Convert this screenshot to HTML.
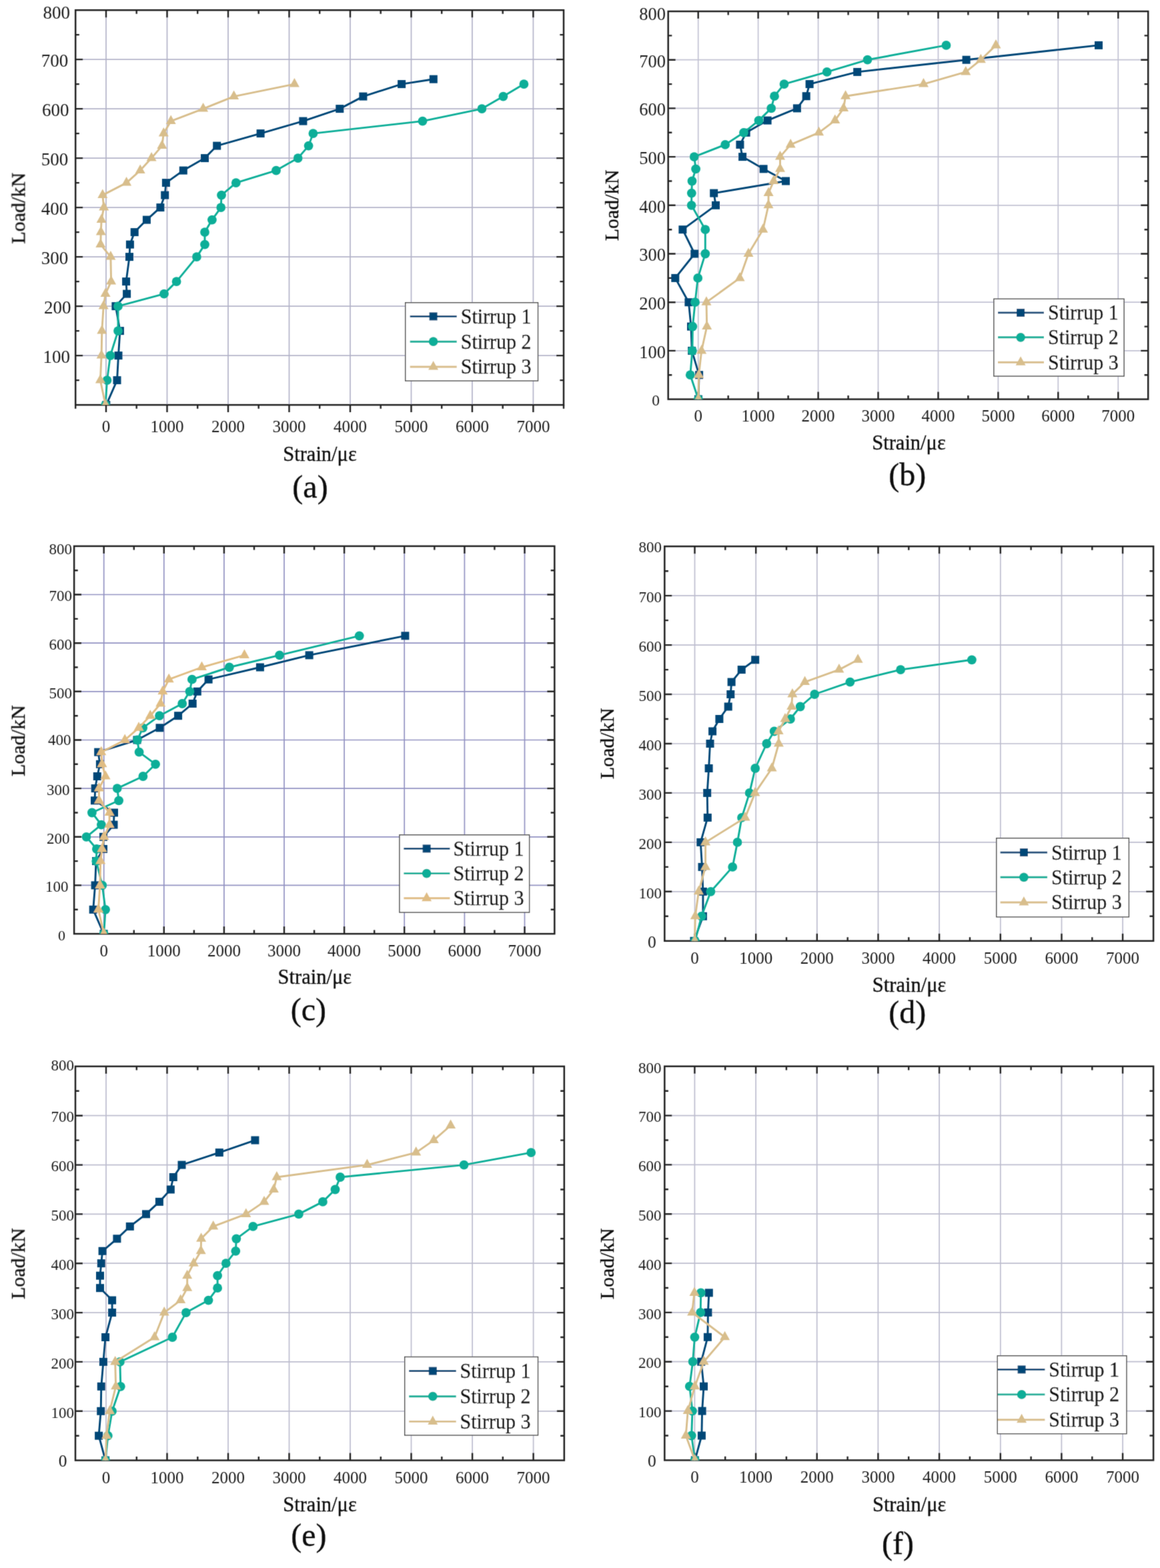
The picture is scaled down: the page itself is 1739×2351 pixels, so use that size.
<!DOCTYPE html>
<html><head><meta charset="utf-8"><title>Load-strain curves of stirrups</title>
<style>html,body{margin:0;padding:0;background:#fff;}svg{display:block;}text{font-family:'Liberation Serif','Times New Roman',serif;fill:#111;stroke:#111;stroke-width:0.35px;}text.t{stroke:none;fill:#1c1c1c;}</style></head><body>
<svg width="1739" height="2351" viewBox="0 0 1739 2351">
<defs><filter id="soft" x="0" y="0" width="1739" height="2351" filterUnits="userSpaceOnUse"><feConvolveMatrix order="3" kernelMatrix="0 1 0 1 4 1 0 1 0" divisor="8" edgeMode="none"/></filter></defs>
<rect width="1739" height="2351" fill="#fff"/>
<g filter="url(#soft)">
<g id="pa">
<clipPath id="ca"><rect x="113.2" y="15.2" width="731.8" height="591.9"/></clipPath>
<path d="M159 15.2V607.1M250.5 15.2V607.1M342 15.2V607.1M433.5 15.2V607.1M525 15.2V607.1M616.5 15.2V607.1M707.9 15.2V607.1M799.4 15.2V607.1M113.2 533.1H845M113.2 459.1H845M113.2 385.1H845M113.2 311.1H845M113.2 237.1H845M113.2 163.1H845M113.2 89.1H845" stroke="#b4b4c9" stroke-width="1.7" fill="none"/>
<path d="M159 15.2v11M159 607.1v11M204.7 15.2v5.6M204.7 607.1v5.6M250.5 15.2v11M250.5 607.1v11M296.2 15.2v5.6M296.2 607.1v5.6M342 15.2v11M342 607.1v11M387.7 15.2v5.6M387.7 607.1v5.6M433.5 15.2v11M433.5 607.1v11M479.2 15.2v5.6M479.2 607.1v5.6M525 15.2v11M525 607.1v11M570.7 15.2v5.6M570.7 607.1v5.6M616.5 15.2v11M616.5 607.1v11M662.2 15.2v5.6M662.2 607.1v5.6M707.9 15.2v11M707.9 607.1v11M753.7 15.2v5.6M753.7 607.1v5.6M799.4 15.2v11M799.4 607.1v11M113.2 607.1v5.6M845 607.1v5.6M113.2 570.1h5.6M845 570.1h-5.6M113.2 533.1h11M845 533.1h-11M113.2 496.1h5.6M845 496.1h-5.6M113.2 459.1h11M845 459.1h-11M113.2 422.1h5.6M845 422.1h-5.6M113.2 385.1h11M845 385.1h-11M113.2 348.1h5.6M845 348.1h-5.6M113.2 311.1h11M845 311.1h-11M113.2 274.1h5.6M845 274.1h-5.6M113.2 237.1h11M845 237.1h-11M113.2 200.1h5.6M845 200.1h-5.6M113.2 163.1h11M845 163.1h-11M113.2 126.1h5.6M845 126.1h-5.6M113.2 89.1h11M845 89.1h-11M113.2 52.1h5.6M845 52.1h-5.6" stroke="#242424" stroke-width="2.4" fill="none"/>
<rect x="113.2" y="15.2" width="731.8" height="591.9" fill="none" stroke="#242424" stroke-width="2.5"/>
<g clip-path="url(#ca)">
<path d="M159.3 607.1L175.5 570.1L177.5 533.1L179.9 496.1L173.4 459.1L190.1 440.6L189.1 422.1L194 385.1L194.9 366.6L201.7 348.1L219.9 329.6L240.4 311.1L247.2 292.6L248.9 274.1L274.8 255.6L307 237.1L325.2 218.6L390.6 200.1L454.4 181.6L509.3 163.1L544.4 144.6L602.1 126.1L649.8 118.7" stroke="#064677" stroke-width="2.9" fill="none" stroke-linejoin="round"/>
<rect x="153.3" y="601.1" width="12" height="12" fill="#064677"/>
<rect x="169.5" y="564.1" width="12" height="12" fill="#064677"/>
<rect x="171.5" y="527.1" width="12" height="12" fill="#064677"/>
<rect x="173.9" y="490.1" width="12" height="12" fill="#064677"/>
<rect x="167.4" y="453.1" width="12" height="12" fill="#064677"/>
<rect x="184.1" y="434.6" width="12" height="12" fill="#064677"/>
<rect x="183.1" y="416.1" width="12" height="12" fill="#064677"/>
<rect x="188" y="379.1" width="12" height="12" fill="#064677"/>
<rect x="188.9" y="360.6" width="12" height="12" fill="#064677"/>
<rect x="195.7" y="342.1" width="12" height="12" fill="#064677"/>
<rect x="213.9" y="323.6" width="12" height="12" fill="#064677"/>
<rect x="234.4" y="305.1" width="12" height="12" fill="#064677"/>
<rect x="241.2" y="286.6" width="12" height="12" fill="#064677"/>
<rect x="242.9" y="268.1" width="12" height="12" fill="#064677"/>
<rect x="268.8" y="249.6" width="12" height="12" fill="#064677"/>
<rect x="301" y="231.1" width="12" height="12" fill="#064677"/>
<rect x="319.2" y="212.6" width="12" height="12" fill="#064677"/>
<rect x="384.6" y="194.1" width="12" height="12" fill="#064677"/>
<rect x="448.4" y="175.6" width="12" height="12" fill="#064677"/>
<rect x="503.3" y="157.1" width="12" height="12" fill="#064677"/>
<rect x="538.4" y="138.6" width="12" height="12" fill="#064677"/>
<rect x="596.1" y="120.1" width="12" height="12" fill="#064677"/>
<rect x="643.8" y="112.7" width="12" height="12" fill="#064677"/>
<path d="M158.1 607.1L160.5 570.1L165.4 533.1L177 496.1L177 459.1L246 440.6L264.6 422.1L294.9 385.1L307 366.6L307 348.1L317.9 329.6L331.2 311.1L332 292.6L353.8 274.1L414 255.6L446.7 237.1L462.6 218.6L469.4 200.1L633.5 181.6L722.4 163.1L754.4 144.6L785.4 126.1" stroke="#0bae98" stroke-width="2.9" fill="none" stroke-linejoin="round"/>
<circle cx="158.1" cy="607.1" r="6.9" fill="#0bae98"/>
<circle cx="160.5" cy="570.1" r="6.9" fill="#0bae98"/>
<circle cx="165.4" cy="533.1" r="6.9" fill="#0bae98"/>
<circle cx="177" cy="496.1" r="6.9" fill="#0bae98"/>
<circle cx="177" cy="459.1" r="6.9" fill="#0bae98"/>
<circle cx="246" cy="440.6" r="6.9" fill="#0bae98"/>
<circle cx="264.6" cy="422.1" r="6.9" fill="#0bae98"/>
<circle cx="294.9" cy="385.1" r="6.9" fill="#0bae98"/>
<circle cx="307" cy="366.6" r="6.9" fill="#0bae98"/>
<circle cx="307" cy="348.1" r="6.9" fill="#0bae98"/>
<circle cx="317.9" cy="329.6" r="6.9" fill="#0bae98"/>
<circle cx="331.2" cy="311.1" r="6.9" fill="#0bae98"/>
<circle cx="332" cy="292.6" r="6.9" fill="#0bae98"/>
<circle cx="353.8" cy="274.1" r="6.9" fill="#0bae98"/>
<circle cx="414" cy="255.6" r="6.9" fill="#0bae98"/>
<circle cx="446.7" cy="237.1" r="6.9" fill="#0bae98"/>
<circle cx="462.6" cy="218.6" r="6.9" fill="#0bae98"/>
<circle cx="469.4" cy="200.1" r="6.9" fill="#0bae98"/>
<circle cx="633.5" cy="181.6" r="6.9" fill="#0bae98"/>
<circle cx="722.4" cy="163.1" r="6.9" fill="#0bae98"/>
<circle cx="754.4" cy="144.6" r="6.9" fill="#0bae98"/>
<circle cx="785.4" cy="126.1" r="6.9" fill="#0bae98"/>
<path d="M158.1 607.1L150.4 570.1L152.1 533.1L152.8 496.1L155.2 459.1L158.1 440.6L166.6 422.1L165.9 385.1L150.8 366.6L151.3 348.1L152.1 329.6L155.7 311.1L153.8 292.6L189.6 274.1L210.2 255.6L227.1 237.1L242.9 218.6L245.3 200.1L256.2 181.6L304.6 163.1L350.6 144.6L441.4 126.1" stroke="#d8be8c" stroke-width="2.9" fill="none" stroke-linejoin="round"/>
<path d="M158.1 598.1L165.6 611.6L150.6 611.6Z" fill="#d8be8c"/>
<path d="M150.4 561.1L157.9 574.6L142.9 574.6Z" fill="#d8be8c"/>
<path d="M152.1 524.1L159.6 537.6L144.6 537.6Z" fill="#d8be8c"/>
<path d="M152.8 487.1L160.3 500.6L145.3 500.6Z" fill="#d8be8c"/>
<path d="M155.2 450.1L162.7 463.6L147.7 463.6Z" fill="#d8be8c"/>
<path d="M158.1 431.6L165.6 445.1L150.6 445.1Z" fill="#d8be8c"/>
<path d="M166.6 413.1L174.1 426.6L159.1 426.6Z" fill="#d8be8c"/>
<path d="M165.9 376.1L173.4 389.6L158.4 389.6Z" fill="#d8be8c"/>
<path d="M150.8 357.6L158.3 371.1L143.3 371.1Z" fill="#d8be8c"/>
<path d="M151.3 339.1L158.8 352.6L143.8 352.6Z" fill="#d8be8c"/>
<path d="M152.1 320.6L159.6 334.1L144.6 334.1Z" fill="#d8be8c"/>
<path d="M155.7 302.1L163.2 315.6L148.2 315.6Z" fill="#d8be8c"/>
<path d="M153.8 283.6L161.3 297.1L146.3 297.1Z" fill="#d8be8c"/>
<path d="M189.6 265.1L197.1 278.6L182.1 278.6Z" fill="#d8be8c"/>
<path d="M210.2 246.6L217.7 260.1L202.7 260.1Z" fill="#d8be8c"/>
<path d="M227.1 228.1L234.6 241.6L219.6 241.6Z" fill="#d8be8c"/>
<path d="M242.9 209.6L250.4 223.1L235.4 223.1Z" fill="#d8be8c"/>
<path d="M245.3 191.1L252.8 204.6L237.8 204.6Z" fill="#d8be8c"/>
<path d="M256.2 172.6L263.7 186.1L248.7 186.1Z" fill="#d8be8c"/>
<path d="M304.6 154.1L312.1 167.6L297.1 167.6Z" fill="#d8be8c"/>
<path d="M350.6 135.6L358.1 149.1L343.1 149.1Z" fill="#d8be8c"/>
<path d="M441.4 117.1L448.9 130.6L433.9 130.6Z" fill="#d8be8c"/>
</g>
<g><text class="t" x="105" y="544.1" text-anchor="end" font-size="27">100</text><text class="t" x="106.4" y="470.1" text-anchor="end" font-size="27">200</text><text class="t" x="102.2" y="396.1" text-anchor="end" font-size="27">300</text><text class="t" x="102.2" y="322.1" text-anchor="end" font-size="27">400</text><text class="t" x="102.2" y="248.1" text-anchor="end" font-size="27">500</text><text class="t" x="103.6" y="174.1" text-anchor="end" font-size="27">600</text><text class="t" x="102.2" y="100.1" text-anchor="end" font-size="27">700</text><text class="t" x="105" y="28.4" text-anchor="end" font-size="27">800</text><text class="t" x="159" y="647.7" text-anchor="middle" font-size="25">0</text><text class="t" x="250.5" y="647.7" text-anchor="middle" font-size="25">1000</text><text class="t" x="342" y="647.7" text-anchor="middle" font-size="25">2000</text><text class="t" x="433.5" y="647.7" text-anchor="middle" font-size="25">3000</text><text class="t" x="525" y="647.7" text-anchor="middle" font-size="25">4000</text><text class="t" x="616.5" y="647.7" text-anchor="middle" font-size="25">5000</text><text class="t" x="707.9" y="647.7" text-anchor="middle" font-size="25">6000</text><text class="t" x="799.4" y="647.7" text-anchor="middle" font-size="25">7000</text></g>
<text transform="translate(37.3 312.3) rotate(-90)" text-anchor="middle" font-size="30">Load/kN</text>
<text x="479.5" y="690.6" text-anchor="middle" font-size="30.5">Strain/με</text>
<text x="465" y="745.5" text-anchor="middle" font-size="48">(a)</text>
<rect x="607.7" y="453.8" width="198.8" height="117.2" fill="#fff" stroke="#4a4a4a" stroke-width="1.4"/>
<path d="M614.7 474.4H684.7" stroke="#064677" stroke-width="2.9"/>
<rect x="643.6" y="468.4" width="12" height="12" fill="#064677"/>
<text x="690.8" y="484.8" font-size="31" textLength="105.8" lengthAdjust="spacingAndGlyphs">Stirrup 1</text>
<path d="M614.7 512.2H684.7" stroke="#0bae98" stroke-width="2.9"/>
<circle cx="649.6" cy="512.2" r="6.9" fill="#0bae98"/>
<text x="690.8" y="522.6" font-size="31" textLength="105.8" lengthAdjust="spacingAndGlyphs">Stirrup 2</text>
<path d="M614.7 550H684.7" stroke="#d8be8c" stroke-width="2.9"/>
<path d="M649.6 541L657.1 554.5L642.1 554.5Z" fill="#d8be8c"/>
<text x="690.8" y="560.4" font-size="31" textLength="105.8" lengthAdjust="spacingAndGlyphs">Stirrup 3</text>
</g>
<g id="pb">
<clipPath id="cb"><rect x="1001.7" y="17" width="719.5" height="581.6"/></clipPath>
<path d="M1046.7 17V598.6M1136.6 17V598.6M1226.6 17V598.6M1316.5 17V598.6M1406.5 17V598.6M1496.4 17V598.6M1586.3 17V598.6M1676.3 17V598.6M1001.7 525.9H1721.2M1001.7 453.2H1721.2M1001.7 380.5H1721.2M1001.7 307.8H1721.2M1001.7 235.1H1721.2M1001.7 162.4H1721.2M1001.7 89.7H1721.2" stroke="#c2c2d3" stroke-width="1.7" fill="none"/>
<path d="M1046.7 17v11M1046.7 598.6v-11M1091.7 17v5.6M1091.7 598.6v-5.6M1136.6 17v11M1136.6 598.6v-11M1181.6 17v5.6M1181.6 598.6v-5.6M1226.6 17v11M1226.6 598.6v-11M1271.6 17v5.6M1271.6 598.6v-5.6M1316.5 17v11M1316.5 598.6v-11M1361.5 17v5.6M1361.5 598.6v-5.6M1406.5 17v11M1406.5 598.6v-11M1451.4 17v5.6M1451.4 598.6v-5.6M1496.4 17v11M1496.4 598.6v-11M1541.4 17v5.6M1541.4 598.6v-5.6M1586.3 17v11M1586.3 598.6v-11M1631.3 17v5.6M1631.3 598.6v-5.6M1676.3 17v11M1676.3 598.6v-11M1001.7 562.2h5.6M1721.2 562.2h-5.6M1001.7 525.9h11M1721.2 525.9h-11M1001.7 489.6h5.6M1721.2 489.6h-5.6M1001.7 453.2h11M1721.2 453.2h-11M1001.7 416.9h5.6M1721.2 416.9h-5.6M1001.7 380.5h11M1721.2 380.5h-11M1001.7 344.2h5.6M1721.2 344.2h-5.6M1001.7 307.8h11M1721.2 307.8h-11M1001.7 271.5h5.6M1721.2 271.5h-5.6M1001.7 235.1h11M1721.2 235.1h-11M1001.7 198.8h5.6M1721.2 198.8h-5.6M1001.7 162.4h11M1721.2 162.4h-11M1001.7 126.1h5.6M1721.2 126.1h-5.6M1001.7 89.7h11M1721.2 89.7h-11M1001.7 53.4h5.6M1721.2 53.4h-5.6" stroke="#242424" stroke-width="2.4" fill="none"/>
<rect x="1001.7" y="17" width="719.5" height="581.6" fill="none" stroke="#242424" stroke-width="2.5"/>
<g clip-path="url(#cb)">
<path d="M1046.9 598.6L1048.1 562.2L1037.2 525.9L1036 489.6L1032.4 453.2L1012.3 416.9L1041.3 380.5L1023.4 344.2L1073 307.8L1070.2 289.6L1178 271.5L1144.6 253.3L1113.1 235.1L1109.4 216.9L1118.6 198.8L1150.6 180.6L1194.9 162.4L1208.7 144.2L1213.6 126.1L1285.2 107.9L1448.6 89.7L1647 67.9" stroke="#064677" stroke-width="2.9" fill="none" stroke-linejoin="round"/>
<rect x="1040.9" y="592.6" width="12" height="12" fill="#064677"/>
<rect x="1042.1" y="556.2" width="12" height="12" fill="#064677"/>
<rect x="1031.2" y="519.9" width="12" height="12" fill="#064677"/>
<rect x="1030" y="483.6" width="12" height="12" fill="#064677"/>
<rect x="1026.4" y="447.2" width="12" height="12" fill="#064677"/>
<rect x="1006.3" y="410.9" width="12" height="12" fill="#064677"/>
<rect x="1035.3" y="374.5" width="12" height="12" fill="#064677"/>
<rect x="1017.4" y="338.2" width="12" height="12" fill="#064677"/>
<rect x="1067" y="301.8" width="12" height="12" fill="#064677"/>
<rect x="1064.2" y="283.6" width="12" height="12" fill="#064677"/>
<rect x="1172" y="265.5" width="12" height="12" fill="#064677"/>
<rect x="1138.6" y="247.3" width="12" height="12" fill="#064677"/>
<rect x="1107.1" y="229.1" width="12" height="12" fill="#064677"/>
<rect x="1103.4" y="210.9" width="12" height="12" fill="#064677"/>
<rect x="1112.6" y="192.8" width="12" height="12" fill="#064677"/>
<rect x="1144.6" y="174.6" width="12" height="12" fill="#064677"/>
<rect x="1188.9" y="156.4" width="12" height="12" fill="#064677"/>
<rect x="1202.7" y="138.2" width="12" height="12" fill="#064677"/>
<rect x="1207.6" y="120.1" width="12" height="12" fill="#064677"/>
<rect x="1279.2" y="101.9" width="12" height="12" fill="#064677"/>
<rect x="1442.6" y="83.7" width="12" height="12" fill="#064677"/>
<rect x="1641" y="61.9" width="12" height="12" fill="#064677"/>
<path d="M1046.9 598.6L1034.8 562.2L1037.9 525.9L1038.4 489.6L1042.1 453.2L1046.2 416.9L1057.3 380.5L1057.3 344.2L1036.6 307.8L1036.8 289.6L1037.5 271.5L1043.1 253.3L1040.7 235.1L1087.2 216.9L1115 198.8L1137.5 180.6L1156.2 162.4L1161 144.2L1175.5 126.1L1239.7 107.9L1300.5 89.7L1418.5 67.9" stroke="#0bae98" stroke-width="2.9" fill="none" stroke-linejoin="round"/>
<circle cx="1046.9" cy="598.6" r="6.9" fill="#0bae98"/>
<circle cx="1034.8" cy="562.2" r="6.9" fill="#0bae98"/>
<circle cx="1037.9" cy="525.9" r="6.9" fill="#0bae98"/>
<circle cx="1038.4" cy="489.6" r="6.9" fill="#0bae98"/>
<circle cx="1042.1" cy="453.2" r="6.9" fill="#0bae98"/>
<circle cx="1046.2" cy="416.9" r="6.9" fill="#0bae98"/>
<circle cx="1057.3" cy="380.5" r="6.9" fill="#0bae98"/>
<circle cx="1057.3" cy="344.2" r="6.9" fill="#0bae98"/>
<circle cx="1036.6" cy="307.8" r="6.9" fill="#0bae98"/>
<circle cx="1036.8" cy="289.6" r="6.9" fill="#0bae98"/>
<circle cx="1037.5" cy="271.5" r="6.9" fill="#0bae98"/>
<circle cx="1043.1" cy="253.3" r="6.9" fill="#0bae98"/>
<circle cx="1040.7" cy="235.1" r="6.9" fill="#0bae98"/>
<circle cx="1087.2" cy="216.9" r="6.9" fill="#0bae98"/>
<circle cx="1115" cy="198.8" r="6.9" fill="#0bae98"/>
<circle cx="1137.5" cy="180.6" r="6.9" fill="#0bae98"/>
<circle cx="1156.2" cy="162.4" r="6.9" fill="#0bae98"/>
<circle cx="1161" cy="144.2" r="6.9" fill="#0bae98"/>
<circle cx="1175.5" cy="126.1" r="6.9" fill="#0bae98"/>
<circle cx="1239.7" cy="107.9" r="6.9" fill="#0bae98"/>
<circle cx="1300.5" cy="89.7" r="6.9" fill="#0bae98"/>
<circle cx="1418.5" cy="67.9" r="6.9" fill="#0bae98"/>
<path d="M1046.9 598.6L1047.6 562.2L1051.7 525.9L1059.7 489.6L1059 453.2L1109.1 416.9L1122 380.5L1143.8 344.2L1152 307.8L1152.1 289.6L1159.8 271.5L1169.5 253.3L1169.5 235.1L1185.2 216.9L1227.6 198.8L1251.8 180.6L1264.6 162.4L1267.6 144.2L1384.5 126.1L1447.8 107.9L1470.4 89.7L1493 67.9" stroke="#d8be8c" stroke-width="2.9" fill="none" stroke-linejoin="round"/>
<path d="M1046.9 589.6L1054.4 603.1L1039.4 603.1Z" fill="#d8be8c"/>
<path d="M1047.6 553.2L1055.1 566.8L1040.1 566.8Z" fill="#d8be8c"/>
<path d="M1051.7 516.9L1059.2 530.4L1044.2 530.4Z" fill="#d8be8c"/>
<path d="M1059.7 480.6L1067.2 494.1L1052.2 494.1Z" fill="#d8be8c"/>
<path d="M1059 444.2L1066.5 457.7L1051.5 457.7Z" fill="#d8be8c"/>
<path d="M1109.1 407.9L1116.6 421.4L1101.6 421.4Z" fill="#d8be8c"/>
<path d="M1122 371.5L1129.5 385L1114.5 385Z" fill="#d8be8c"/>
<path d="M1143.8 335.2L1151.3 348.7L1136.3 348.7Z" fill="#d8be8c"/>
<path d="M1152 298.8L1159.5 312.3L1144.5 312.3Z" fill="#d8be8c"/>
<path d="M1152.1 280.6L1159.6 294.1L1144.6 294.1Z" fill="#d8be8c"/>
<path d="M1159.8 262.5L1167.3 276L1152.3 276Z" fill="#d8be8c"/>
<path d="M1169.5 244.3L1177 257.8L1162 257.8Z" fill="#d8be8c"/>
<path d="M1169.5 226.1L1177 239.6L1162 239.6Z" fill="#d8be8c"/>
<path d="M1185.2 207.9L1192.7 221.4L1177.7 221.4Z" fill="#d8be8c"/>
<path d="M1227.6 189.8L1235.1 203.3L1220.1 203.3Z" fill="#d8be8c"/>
<path d="M1251.8 171.6L1259.3 185.1L1244.3 185.1Z" fill="#d8be8c"/>
<path d="M1264.6 153.4L1272.1 166.9L1257.1 166.9Z" fill="#d8be8c"/>
<path d="M1267.6 135.2L1275.1 148.7L1260.1 148.7Z" fill="#d8be8c"/>
<path d="M1384.5 117.1L1392 130.6L1377 130.6Z" fill="#d8be8c"/>
<path d="M1447.8 98.9L1455.3 112.4L1440.3 112.4Z" fill="#d8be8c"/>
<path d="M1470.4 80.7L1477.9 94.2L1462.9 94.2Z" fill="#d8be8c"/>
<path d="M1493 58.9L1500.5 72.4L1485.5 72.4Z" fill="#d8be8c"/>
</g>
<g><text class="t" x="983" y="608.4" text-anchor="middle" font-size="23.5">0</text><text class="t" x="997.9" y="536.8" text-anchor="end" font-size="26.5">100</text><text class="t" x="997.9" y="464.1" text-anchor="end" font-size="26.5">200</text><text class="t" x="997.9" y="391.4" text-anchor="end" font-size="26.5">300</text><text class="t" x="997.9" y="318.7" text-anchor="end" font-size="26.5">400</text><text class="t" x="997.9" y="246" text-anchor="end" font-size="26.5">500</text><text class="t" x="997.9" y="173.3" text-anchor="end" font-size="26.5">600</text><text class="t" x="997.9" y="100.6" text-anchor="end" font-size="26.5">700</text><text class="t" x="997.9" y="29.5" text-anchor="end" font-size="26.5">800</text><text class="t" x="1046.7" y="632.2" text-anchor="middle" font-size="25">0</text><text class="t" x="1136.6" y="632.2" text-anchor="middle" font-size="25">1000</text><text class="t" x="1226.6" y="632.2" text-anchor="middle" font-size="25">2000</text><text class="t" x="1316.5" y="632.2" text-anchor="middle" font-size="25">3000</text><text class="t" x="1406.5" y="632.2" text-anchor="middle" font-size="25">4000</text><text class="t" x="1496.4" y="632.2" text-anchor="middle" font-size="25">5000</text><text class="t" x="1586.3" y="632.2" text-anchor="middle" font-size="25">6000</text><text class="t" x="1676.3" y="632.2" text-anchor="middle" font-size="25">7000</text></g>
<text transform="translate(926.8 308) rotate(-90)" text-anchor="middle" font-size="30">Load/kN</text>
<text x="1362.5" y="673.9" text-anchor="middle" font-size="30.5">Strain/με</text>
<text x="1360.3" y="728.3" text-anchor="middle" font-size="48">(b)</text>
<rect x="1489.9" y="448.2" width="195.2" height="115.8" fill="#fff" stroke="#4a4a4a" stroke-width="1.4"/>
<path d="M1496 468.9H1565" stroke="#064677" stroke-width="2.9"/>
<rect x="1524.1" y="462.9" width="12" height="12" fill="#064677"/>
<text x="1571" y="479.3" font-size="31" textLength="105.8" lengthAdjust="spacingAndGlyphs">Stirrup 1</text>
<path d="M1496 505.8H1565" stroke="#0bae98" stroke-width="2.9"/>
<circle cx="1530.1" cy="505.8" r="6.9" fill="#0bae98"/>
<text x="1571" y="516.2" font-size="31" textLength="105.8" lengthAdjust="spacingAndGlyphs">Stirrup 2</text>
<path d="M1496 543.3H1565" stroke="#d8be8c" stroke-width="2.9"/>
<path d="M1530.1 534.3L1537.6 547.8L1522.6 547.8Z" fill="#d8be8c"/>
<text x="1571" y="553.7" font-size="31" textLength="105.8" lengthAdjust="spacingAndGlyphs">Stirrup 3</text>
</g>
<g id="pc">
<clipPath id="cc"><rect x="111.1" y="818.9" width="720.2" height="581.2"/></clipPath>
<path d="M155.7 818.9V1400.1M245.8 818.9V1400.1M335.9 818.9V1400.1M426 818.9V1400.1M516.1 818.9V1400.1M606.2 818.9V1400.1M696.4 818.9V1400.1M786.5 818.9V1400.1M111.1 1327.4H831.3M111.1 1254.8H831.3M111.1 1182.1H831.3M111.1 1109.5H831.3M111.1 1036.8H831.3M111.1 964.2H831.3M111.1 891.5H831.3" stroke="#9393c2" stroke-width="1.7" fill="none"/>
<path d="M155.7 818.9v11M155.7 1400.1v-11M200.8 818.9v5.6M200.8 1400.1v-5.6M245.8 818.9v11M245.8 1400.1v-11M290.9 818.9v5.6M290.9 1400.1v-5.6M335.9 818.9v11M335.9 1400.1v-11M381 818.9v5.6M381 1400.1v-5.6M426 818.9v11M426 1400.1v-11M471.1 818.9v5.6M471.1 1400.1v-5.6M516.1 818.9v11M516.1 1400.1v-11M561.2 818.9v5.6M561.2 1400.1v-5.6M606.2 818.9v11M606.2 1400.1v-11M651.3 818.9v5.6M651.3 1400.1v-5.6M696.4 818.9v11M696.4 1400.1v-11M741.4 818.9v5.6M741.4 1400.1v-5.6M786.5 818.9v11M786.5 1400.1v-11M111.1 1363.8h5.6M831.3 1363.8h-5.6M111.1 1327.4h11M831.3 1327.4h-11M111.1 1291.1h5.6M831.3 1291.1h-5.6M111.1 1254.8h11M831.3 1254.8h-11M111.1 1218.5h5.6M831.3 1218.5h-5.6M111.1 1182.1h11M831.3 1182.1h-11M111.1 1145.8h5.6M831.3 1145.8h-5.6M111.1 1109.5h11M831.3 1109.5h-11M111.1 1073.2h5.6M831.3 1073.2h-5.6M111.1 1036.8h11M831.3 1036.8h-11M111.1 1000.5h5.6M831.3 1000.5h-5.6M111.1 964.2h11M831.3 964.2h-11M111.1 927.9h5.6M831.3 927.9h-5.6M111.1 891.5h11M831.3 891.5h-11M111.1 855.2h5.6M831.3 855.2h-5.6" stroke="#242424" stroke-width="2.4" fill="none"/>
<rect x="111.1" y="818.9" width="720.2" height="581.2" fill="none" stroke="#242424" stroke-width="2.5"/>
<g clip-path="url(#cc)">
<path d="M155.5 1400.1L139.7 1363.8L142.6 1327.4L144 1291.1L155 1273L155 1254.8L170.5 1236.6L171 1218.5L142 1200.3L142.7 1182.1L145.8 1164L149.9 1145.8L147.2 1127.7L205.5 1109.5L239.5 1091.3L267.1 1073.2L288.7 1055L295.8 1036.8L312.6 1018.7L389.9 1000.5L463.6 982.4L607.4 953.3" stroke="#064677" stroke-width="2.9" fill="none" stroke-linejoin="round"/>
<rect x="149.5" y="1394.1" width="12" height="12" fill="#064677"/>
<rect x="133.7" y="1357.8" width="12" height="12" fill="#064677"/>
<rect x="136.6" y="1321.4" width="12" height="12" fill="#064677"/>
<rect x="138" y="1285.1" width="12" height="12" fill="#064677"/>
<rect x="149" y="1267" width="12" height="12" fill="#064677"/>
<rect x="149" y="1248.8" width="12" height="12" fill="#064677"/>
<rect x="164.5" y="1230.6" width="12" height="12" fill="#064677"/>
<rect x="165" y="1212.5" width="12" height="12" fill="#064677"/>
<rect x="136" y="1194.3" width="12" height="12" fill="#064677"/>
<rect x="136.7" y="1176.1" width="12" height="12" fill="#064677"/>
<rect x="139.8" y="1158" width="12" height="12" fill="#064677"/>
<rect x="143.9" y="1139.8" width="12" height="12" fill="#064677"/>
<rect x="141.2" y="1121.7" width="12" height="12" fill="#064677"/>
<rect x="199.5" y="1103.5" width="12" height="12" fill="#064677"/>
<rect x="233.5" y="1085.3" width="12" height="12" fill="#064677"/>
<rect x="261.1" y="1067.2" width="12" height="12" fill="#064677"/>
<rect x="282.7" y="1049" width="12" height="12" fill="#064677"/>
<rect x="289.8" y="1030.8" width="12" height="12" fill="#064677"/>
<rect x="306.6" y="1012.7" width="12" height="12" fill="#064677"/>
<rect x="383.9" y="994.5" width="12" height="12" fill="#064677"/>
<rect x="457.6" y="976.4" width="12" height="12" fill="#064677"/>
<rect x="601.4" y="947.3" width="12" height="12" fill="#064677"/>
<path d="M155.7 1400.1L158.1 1363.8L153.3 1327.4L144.3 1291.1L144.9 1273L129.5 1254.8L151.9 1236.6L137.9 1218.5L178.1 1200.3L175.7 1182.1L214.4 1164L233.1 1145.8L208.6 1127.7L205.9 1109.5L214.1 1091.3L239.1 1073.2L273.2 1055L284.4 1036.8L287.9 1018.7L343.8 1000.5L419.1 982.4L538.7 953.3" stroke="#0bae98" stroke-width="2.9" fill="none" stroke-linejoin="round"/>
<circle cx="155.7" cy="1400.1" r="6.9" fill="#0bae98"/>
<circle cx="158.1" cy="1363.8" r="6.9" fill="#0bae98"/>
<circle cx="153.3" cy="1327.4" r="6.9" fill="#0bae98"/>
<circle cx="144.3" cy="1291.1" r="6.9" fill="#0bae98"/>
<circle cx="144.9" cy="1273" r="6.9" fill="#0bae98"/>
<circle cx="129.5" cy="1254.8" r="6.9" fill="#0bae98"/>
<circle cx="151.9" cy="1236.6" r="6.9" fill="#0bae98"/>
<circle cx="137.9" cy="1218.5" r="6.9" fill="#0bae98"/>
<circle cx="178.1" cy="1200.3" r="6.9" fill="#0bae98"/>
<circle cx="175.7" cy="1182.1" r="6.9" fill="#0bae98"/>
<circle cx="214.4" cy="1164" r="6.9" fill="#0bae98"/>
<circle cx="233.1" cy="1145.8" r="6.9" fill="#0bae98"/>
<circle cx="208.6" cy="1127.7" r="6.9" fill="#0bae98"/>
<circle cx="205.9" cy="1109.5" r="6.9" fill="#0bae98"/>
<circle cx="214.1" cy="1091.3" r="6.9" fill="#0bae98"/>
<circle cx="239.1" cy="1073.2" r="6.9" fill="#0bae98"/>
<circle cx="273.2" cy="1055" r="6.9" fill="#0bae98"/>
<circle cx="284.4" cy="1036.8" r="6.9" fill="#0bae98"/>
<circle cx="287.9" cy="1018.7" r="6.9" fill="#0bae98"/>
<circle cx="343.8" cy="1000.5" r="6.9" fill="#0bae98"/>
<circle cx="419.1" cy="982.4" r="6.9" fill="#0bae98"/>
<circle cx="538.7" cy="953.3" r="6.9" fill="#0bae98"/>
<path d="M155.7 1400.1L147.5 1363.8L149.9 1327.4L150.7 1291.1L153 1273L156 1254.8L164.1 1236.6L164.1 1218.5L148.4 1200.3L148.4 1182.1L158.1 1164L153 1145.8L151.8 1127.7L187.2 1109.5L208 1091.3L225.3 1073.2L240.7 1055L243.9 1036.8L253.2 1018.7L302.5 1000.5L366.4 982.4" stroke="#e0bd84" stroke-width="2.9" fill="none" stroke-linejoin="round"/>
<path d="M155.7 1391.1L163.2 1404.6L148.2 1404.6Z" fill="#e0bd84"/>
<path d="M147.5 1354.8L155 1368.3L140 1368.3Z" fill="#e0bd84"/>
<path d="M149.9 1318.4L157.4 1331.9L142.4 1331.9Z" fill="#e0bd84"/>
<path d="M150.7 1282.1L158.2 1295.6L143.2 1295.6Z" fill="#e0bd84"/>
<path d="M153 1264L160.5 1277.5L145.5 1277.5Z" fill="#e0bd84"/>
<path d="M156 1245.8L163.5 1259.3L148.5 1259.3Z" fill="#e0bd84"/>
<path d="M164.1 1227.6L171.6 1241.1L156.6 1241.1Z" fill="#e0bd84"/>
<path d="M164.1 1209.5L171.6 1223L156.6 1223Z" fill="#e0bd84"/>
<path d="M148.4 1191.3L155.9 1204.8L140.9 1204.8Z" fill="#e0bd84"/>
<path d="M148.4 1173.1L155.9 1186.6L140.9 1186.6Z" fill="#e0bd84"/>
<path d="M158.1 1155L165.6 1168.5L150.6 1168.5Z" fill="#e0bd84"/>
<path d="M153 1136.8L160.5 1150.3L145.5 1150.3Z" fill="#e0bd84"/>
<path d="M151.8 1118.7L159.3 1132.2L144.3 1132.2Z" fill="#e0bd84"/>
<path d="M187.2 1100.5L194.7 1114L179.7 1114Z" fill="#e0bd84"/>
<path d="M208 1082.3L215.5 1095.8L200.5 1095.8Z" fill="#e0bd84"/>
<path d="M225.3 1064.2L232.8 1077.7L217.8 1077.7Z" fill="#e0bd84"/>
<path d="M240.7 1046L248.2 1059.5L233.2 1059.5Z" fill="#e0bd84"/>
<path d="M243.9 1027.8L251.4 1041.3L236.4 1041.3Z" fill="#e0bd84"/>
<path d="M253.2 1009.7L260.7 1023.2L245.7 1023.2Z" fill="#e0bd84"/>
<path d="M302.5 991.5L310 1005L295 1005Z" fill="#e0bd84"/>
<path d="M366.4 973.4L373.9 986.9L358.9 986.9Z" fill="#e0bd84"/>
</g>
<g><text class="t" x="92.6" y="1410.3" text-anchor="middle" font-size="22">0</text><text class="t" x="102.6" y="1337.2" text-anchor="end" font-size="23">100</text><text class="t" x="104.5" y="1264.5" text-anchor="end" font-size="23">200</text><text class="t" x="104.5" y="1191.9" text-anchor="end" font-size="23">300</text><text class="t" x="106.4" y="1117.2" text-anchor="end" font-size="23">400</text><text class="t" x="108" y="1046.6" text-anchor="end" font-size="23">500</text><text class="t" x="108" y="973.9" text-anchor="end" font-size="23">600</text><text class="t" x="108" y="901.3" text-anchor="end" font-size="23">700</text><text class="t" x="108" y="831.1" text-anchor="end" font-size="23">800</text><text class="t" x="155.7" y="1433.8" text-anchor="middle" font-size="25">0</text><text class="t" x="245.8" y="1433.8" text-anchor="middle" font-size="25">1000</text><text class="t" x="335.9" y="1433.8" text-anchor="middle" font-size="25">2000</text><text class="t" x="426" y="1433.8" text-anchor="middle" font-size="25">3000</text><text class="t" x="516.1" y="1433.8" text-anchor="middle" font-size="25">4000</text><text class="t" x="606.2" y="1433.8" text-anchor="middle" font-size="25">5000</text><text class="t" x="696.4" y="1433.8" text-anchor="middle" font-size="25">6000</text><text class="t" x="786.5" y="1433.8" text-anchor="middle" font-size="25">7000</text></g>
<text transform="translate(37 1110.7) rotate(-90)" text-anchor="middle" font-size="30">Load/kN</text>
<text x="471.8" y="1475.3" text-anchor="middle" font-size="30.5">Strain/με</text>
<text x="462.4" y="1529.7" text-anchor="middle" font-size="48">(c)</text>
<rect x="598.9" y="1251.8" width="194.7" height="116.2" fill="#fff" stroke="#4a4a4a" stroke-width="1.4"/>
<path d="M605.4 1272.4H674.4" stroke="#064677" stroke-width="2.9"/>
<rect x="633.6" y="1266.4" width="12" height="12" fill="#064677"/>
<text x="679.6" y="1282.8" font-size="31" textLength="105.8" lengthAdjust="spacingAndGlyphs">Stirrup 1</text>
<path d="M605.4 1309.6H674.4" stroke="#0bae98" stroke-width="2.9"/>
<circle cx="639.6" cy="1309.6" r="6.9" fill="#0bae98"/>
<text x="679.6" y="1320" font-size="31" textLength="105.8" lengthAdjust="spacingAndGlyphs">Stirrup 2</text>
<path d="M605.4 1346.7H674.4" stroke="#e0bd84" stroke-width="2.9"/>
<path d="M639.6 1337.7L647.1 1351.2L632.1 1351.2Z" fill="#e0bd84"/>
<text x="679.6" y="1357.1" font-size="31" textLength="105.8" lengthAdjust="spacingAndGlyphs">Stirrup 3</text>
</g>
<g id="pd">
<clipPath id="cd"><rect x="996.3" y="819.2" width="732.8" height="591.6"/></clipPath>
<path d="M1041.5 819.2V1410.8M1133.2 819.2V1410.8M1224.8 819.2V1410.8M1316.5 819.2V1410.8M1408.1 819.2V1410.8M1499.8 819.2V1410.8M1591.5 819.2V1410.8M1683.1 819.2V1410.8M996.3 1336.8H1729.1M996.3 1262.9H1729.1M996.3 1188.9H1729.1M996.3 1115H1729.1M996.3 1041H1729.1M996.3 967.1H1729.1M996.3 893.1H1729.1" stroke="#bdbdcf" stroke-width="1.7" fill="none"/>
<path d="M1041.5 819.2v11M1041.5 1410.8v-11M1087.3 819.2v5.6M1087.3 1410.8v-5.6M1133.2 819.2v11M1133.2 1410.8v-11M1179 819.2v5.6M1179 1410.8v-5.6M1224.8 819.2v11M1224.8 1410.8v-11M1270.7 819.2v5.6M1270.7 1410.8v-5.6M1316.5 819.2v11M1316.5 1410.8v-11M1362.3 819.2v5.6M1362.3 1410.8v-5.6M1408.1 819.2v11M1408.1 1410.8v-11M1454 819.2v5.6M1454 1410.8v-5.6M1499.8 819.2v11M1499.8 1410.8v-11M1545.6 819.2v5.6M1545.6 1410.8v-5.6M1591.5 819.2v11M1591.5 1410.8v-11M1637.3 819.2v5.6M1637.3 1410.8v-5.6M1683.1 819.2v11M1683.1 1410.8v-11M996.3 1373.8h5.6M1729.1 1373.8h-5.6M996.3 1336.8h11M1729.1 1336.8h-11M996.3 1299.9h5.6M1729.1 1299.9h-5.6M996.3 1262.9h11M1729.1 1262.9h-11M996.3 1225.9h5.6M1729.1 1225.9h-5.6M996.3 1188.9h11M1729.1 1188.9h-11M996.3 1152h5.6M1729.1 1152h-5.6M996.3 1115h11M1729.1 1115h-11M996.3 1078h5.6M1729.1 1078h-5.6M996.3 1041h11M1729.1 1041h-11M996.3 1004.1h5.6M1729.1 1004.1h-5.6M996.3 967.1h11M1729.1 967.1h-11M996.3 930.1h5.6M1729.1 930.1h-5.6M996.3 893.1h11M1729.1 893.1h-11M996.3 856.2h5.6M1729.1 856.2h-5.6" stroke="#242424" stroke-width="2.4" fill="none"/>
<rect x="996.3" y="819.2" width="732.8" height="591.6" fill="none" stroke="#242424" stroke-width="2.5"/>
<g clip-path="url(#cd)">
<path d="M1040.5 1410.8L1053.9 1373.8L1053.9 1336.8L1052.5 1299.9L1050.3 1262.9L1060.8 1225.9L1060.2 1188.9L1062.6 1152L1064.5 1115L1068.1 1096.5L1078.4 1078L1091.7 1059.5L1095.3 1041L1096.6 1022.6L1111.7 1004.1L1132.2 989.3" stroke="#064677" stroke-width="2.9" fill="none" stroke-linejoin="round"/>
<rect x="1034.5" y="1404.8" width="12" height="12" fill="#064677"/>
<rect x="1047.9" y="1367.8" width="12" height="12" fill="#064677"/>
<rect x="1047.9" y="1330.8" width="12" height="12" fill="#064677"/>
<rect x="1046.5" y="1293.9" width="12" height="12" fill="#064677"/>
<rect x="1044.3" y="1256.9" width="12" height="12" fill="#064677"/>
<rect x="1054.8" y="1219.9" width="12" height="12" fill="#064677"/>
<rect x="1054.2" y="1182.9" width="12" height="12" fill="#064677"/>
<rect x="1056.6" y="1146" width="12" height="12" fill="#064677"/>
<rect x="1058.5" y="1109" width="12" height="12" fill="#064677"/>
<rect x="1062.1" y="1090.5" width="12" height="12" fill="#064677"/>
<rect x="1072.4" y="1072" width="12" height="12" fill="#064677"/>
<rect x="1085.7" y="1053.5" width="12" height="12" fill="#064677"/>
<rect x="1089.3" y="1035" width="12" height="12" fill="#064677"/>
<rect x="1090.6" y="1016.6" width="12" height="12" fill="#064677"/>
<rect x="1105.7" y="998.1" width="12" height="12" fill="#064677"/>
<rect x="1126.2" y="983.3" width="12" height="12" fill="#064677"/>
<path d="M1042 1410.8L1051.7 1373.8L1065.5 1336.8L1098.2 1299.9L1105.5 1262.9L1112 1225.9L1123.6 1188.9L1132.2 1152L1149.3 1115L1160.7 1096.5L1184.9 1078L1199.7 1059.5L1221.2 1041L1274.4 1022.6L1350.1 1004.1L1456.9 989.3" stroke="#0bae98" stroke-width="2.9" fill="none" stroke-linejoin="round"/>
<circle cx="1042" cy="1410.8" r="6.9" fill="#0bae98"/>
<circle cx="1051.7" cy="1373.8" r="6.9" fill="#0bae98"/>
<circle cx="1065.5" cy="1336.8" r="6.9" fill="#0bae98"/>
<circle cx="1098.2" cy="1299.9" r="6.9" fill="#0bae98"/>
<circle cx="1105.5" cy="1262.9" r="6.9" fill="#0bae98"/>
<circle cx="1112" cy="1225.9" r="6.9" fill="#0bae98"/>
<circle cx="1123.6" cy="1188.9" r="6.9" fill="#0bae98"/>
<circle cx="1132.2" cy="1152" r="6.9" fill="#0bae98"/>
<circle cx="1149.3" cy="1115" r="6.9" fill="#0bae98"/>
<circle cx="1160.7" cy="1096.5" r="6.9" fill="#0bae98"/>
<circle cx="1184.9" cy="1078" r="6.9" fill="#0bae98"/>
<circle cx="1199.7" cy="1059.5" r="6.9" fill="#0bae98"/>
<circle cx="1221.2" cy="1041" r="6.9" fill="#0bae98"/>
<circle cx="1274.4" cy="1022.6" r="6.9" fill="#0bae98"/>
<circle cx="1350.1" cy="1004.1" r="6.9" fill="#0bae98"/>
<circle cx="1456.9" cy="989.3" r="6.9" fill="#0bae98"/>
<path d="M1041.6 1410.8L1042.3 1373.8L1047.4 1336.8L1057.6 1299.9L1057.6 1262.9L1117.1 1225.9L1131.9 1188.9L1157.1 1152L1167.4 1115L1167.1 1096.5L1177 1078L1186.7 1059.5L1187.9 1041L1206.6 1022.6L1257.9 1004.1L1286.1 989.3" stroke="#d8be8c" stroke-width="2.9" fill="none" stroke-linejoin="round"/>
<path d="M1041.6 1401.8L1049.1 1415.3L1034.1 1415.3Z" fill="#d8be8c"/>
<path d="M1042.3 1364.8L1049.8 1378.3L1034.8 1378.3Z" fill="#d8be8c"/>
<path d="M1047.4 1327.8L1054.9 1341.3L1039.9 1341.3Z" fill="#d8be8c"/>
<path d="M1057.6 1290.9L1065.1 1304.4L1050.1 1304.4Z" fill="#d8be8c"/>
<path d="M1057.6 1253.9L1065.1 1267.4L1050.1 1267.4Z" fill="#d8be8c"/>
<path d="M1117.1 1216.9L1124.6 1230.4L1109.6 1230.4Z" fill="#d8be8c"/>
<path d="M1131.9 1179.9L1139.4 1193.4L1124.4 1193.4Z" fill="#d8be8c"/>
<path d="M1157.1 1143L1164.6 1156.5L1149.6 1156.5Z" fill="#d8be8c"/>
<path d="M1167.4 1106L1174.9 1119.5L1159.9 1119.5Z" fill="#d8be8c"/>
<path d="M1167.1 1087.5L1174.6 1101L1159.6 1101Z" fill="#d8be8c"/>
<path d="M1177 1069L1184.5 1082.5L1169.5 1082.5Z" fill="#d8be8c"/>
<path d="M1186.7 1050.5L1194.2 1064L1179.2 1064Z" fill="#d8be8c"/>
<path d="M1187.9 1032L1195.4 1045.5L1180.4 1045.5Z" fill="#d8be8c"/>
<path d="M1206.6 1013.6L1214.1 1027.1L1199.1 1027.1Z" fill="#d8be8c"/>
<path d="M1257.9 995.1L1265.4 1008.6L1250.4 1008.6Z" fill="#d8be8c"/>
<path d="M1286.1 980.3L1293.6 993.8L1278.6 993.8Z" fill="#d8be8c"/>
</g>
<g><text class="t" x="977.4" y="1421" text-anchor="middle" font-size="25.5">0</text><text class="t" x="992" y="1346.6" text-anchor="end" font-size="23">100</text><text class="t" x="992" y="1272.6" text-anchor="end" font-size="23">200</text><text class="t" x="992" y="1198.7" text-anchor="end" font-size="23">300</text><text class="t" x="992" y="1124.7" text-anchor="end" font-size="23">400</text><text class="t" x="992" y="1050.8" text-anchor="end" font-size="23">500</text><text class="t" x="992" y="976.8" text-anchor="end" font-size="23">600</text><text class="t" x="992" y="902.9" text-anchor="end" font-size="23">700</text><text class="t" x="992" y="827.9" text-anchor="end" font-size="23">800</text><text class="t" x="1041.5" y="1445.2" text-anchor="middle" font-size="25">0</text><text class="t" x="1133.2" y="1445.2" text-anchor="middle" font-size="25">1000</text><text class="t" x="1224.8" y="1445.2" text-anchor="middle" font-size="25">2000</text><text class="t" x="1316.5" y="1445.2" text-anchor="middle" font-size="25">3000</text><text class="t" x="1408.1" y="1445.2" text-anchor="middle" font-size="25">4000</text><text class="t" x="1499.8" y="1445.2" text-anchor="middle" font-size="25">5000</text><text class="t" x="1591.5" y="1445.2" text-anchor="middle" font-size="25">6000</text><text class="t" x="1683.1" y="1445.2" text-anchor="middle" font-size="25">7000</text></g>
<text transform="translate(919.8 1115) rotate(-90)" text-anchor="middle" font-size="30">Load/kN</text>
<text x="1363.1" y="1486.5" text-anchor="middle" font-size="30.5">Strain/με</text>
<text x="1360.3" y="1533.9" text-anchor="middle" font-size="48">(d)</text>
<rect x="1493.8" y="1256.7" width="198.6" height="118.1" fill="#fff" stroke="#4a4a4a" stroke-width="1.4"/>
<path d="M1499.6 1278.1H1570.1" stroke="#064677" stroke-width="2.9"/>
<rect x="1528.9" y="1272.1" width="12" height="12" fill="#064677"/>
<text x="1576" y="1288.5" font-size="31" textLength="105.8" lengthAdjust="spacingAndGlyphs">Stirrup 1</text>
<path d="M1499.6 1315.3H1570.1" stroke="#0bae98" stroke-width="2.9"/>
<circle cx="1534.9" cy="1315.3" r="6.9" fill="#0bae98"/>
<text x="1576" y="1325.7" font-size="31" textLength="105.8" lengthAdjust="spacingAndGlyphs">Stirrup 2</text>
<path d="M1499.6 1353H1570.1" stroke="#d8be8c" stroke-width="2.9"/>
<path d="M1534.9 1344L1542.4 1357.5L1527.4 1357.5Z" fill="#d8be8c"/>
<text x="1576" y="1363.4" font-size="31" textLength="105.8" lengthAdjust="spacingAndGlyphs">Stirrup 3</text>
</g>
<g id="pe">
<clipPath id="ce"><rect x="113" y="1598.9" width="732.8" height="590.7"/></clipPath>
<path d="M159 1598.9V2189.6M250.5 1598.9V2189.6M342 1598.9V2189.6M433.5 1598.9V2189.6M525 1598.9V2189.6M616.5 1598.9V2189.6M708.1 1598.9V2189.6M799.6 1598.9V2189.6M113 2115.8H845.8M113 2041.9H845.8M113 1968.1H845.8M113 1894.2H845.8M113 1820.4H845.8M113 1746.6H845.8M113 1672.7H845.8" stroke="#bdbdcf" stroke-width="1.7" fill="none"/>
<path d="M159 1598.9v11M159 2189.6v-11M204.8 1598.9v5.6M204.8 2189.6v-5.6M250.5 1598.9v11M250.5 2189.6v-11M296.3 1598.9v5.6M296.3 2189.6v-5.6M342 1598.9v11M342 2189.6v-11M387.8 1598.9v5.6M387.8 2189.6v-5.6M433.5 1598.9v11M433.5 2189.6v-11M479.3 1598.9v5.6M479.3 2189.6v-5.6M525 1598.9v11M525 2189.6v-11M570.8 1598.9v5.6M570.8 2189.6v-5.6M616.5 1598.9v11M616.5 2189.6v-11M662.3 1598.9v5.6M662.3 2189.6v-5.6M708.1 1598.9v11M708.1 2189.6v-11M753.8 1598.9v5.6M753.8 2189.6v-5.6M799.6 1598.9v11M799.6 2189.6v-11M113 2152.7h5.6M845.8 2152.7h-5.6M113 2115.8h11M845.8 2115.8h-11M113 2078.8h5.6M845.8 2078.8h-5.6M113 2041.9h11M845.8 2041.9h-11M113 2005h5.6M845.8 2005h-5.6M113 1968.1h11M845.8 1968.1h-11M113 1931.2h5.6M845.8 1931.2h-5.6M113 1894.2h11M845.8 1894.2h-11M113 1857.3h5.6M845.8 1857.3h-5.6M113 1820.4h11M845.8 1820.4h-11M113 1783.5h5.6M845.8 1783.5h-5.6M113 1746.6h11M845.8 1746.6h-11M113 1709.6h5.6M845.8 1709.6h-5.6M113 1672.7h11M845.8 1672.7h-11M113 1635.8h5.6M845.8 1635.8h-5.6" stroke="#242424" stroke-width="2.4" fill="none"/>
<rect x="113" y="1598.9" width="732.8" height="590.7" fill="none" stroke="#242424" stroke-width="2.5"/>
<g clip-path="url(#ce)">
<path d="M158.1 2189.6L148.1 2152.7L151.2 2115.8L151.8 2078.8L154.9 2041.9L158.1 2005L168.1 1968.1L168.1 1949.6L150 1931.2L150 1912.7L151.8 1894.2L153.6 1875.8L175.4 1857.3L194.8 1838.9L219 1820.4L238.9 1801.9L255.8 1783.5L259.8 1765L272.5 1746.6L328.8 1728.1L382.4 1709.6" stroke="#064677" stroke-width="2.9" fill="none" stroke-linejoin="round"/>
<rect x="152.1" y="2183.6" width="12" height="12" fill="#064677"/>
<rect x="142.1" y="2146.7" width="12" height="12" fill="#064677"/>
<rect x="145.2" y="2109.8" width="12" height="12" fill="#064677"/>
<rect x="145.8" y="2072.8" width="12" height="12" fill="#064677"/>
<rect x="148.9" y="2035.9" width="12" height="12" fill="#064677"/>
<rect x="152.1" y="1999" width="12" height="12" fill="#064677"/>
<rect x="162.1" y="1962.1" width="12" height="12" fill="#064677"/>
<rect x="162.1" y="1943.6" width="12" height="12" fill="#064677"/>
<rect x="144" y="1925.2" width="12" height="12" fill="#064677"/>
<rect x="144" y="1906.7" width="12" height="12" fill="#064677"/>
<rect x="145.8" y="1888.2" width="12" height="12" fill="#064677"/>
<rect x="147.6" y="1869.8" width="12" height="12" fill="#064677"/>
<rect x="169.4" y="1851.3" width="12" height="12" fill="#064677"/>
<rect x="188.8" y="1832.9" width="12" height="12" fill="#064677"/>
<rect x="213" y="1814.4" width="12" height="12" fill="#064677"/>
<rect x="232.9" y="1795.9" width="12" height="12" fill="#064677"/>
<rect x="249.8" y="1777.5" width="12" height="12" fill="#064677"/>
<rect x="253.8" y="1759" width="12" height="12" fill="#064677"/>
<rect x="266.5" y="1740.6" width="12" height="12" fill="#064677"/>
<rect x="322.8" y="1722.1" width="12" height="12" fill="#064677"/>
<rect x="376.4" y="1703.6" width="12" height="12" fill="#064677"/>
<path d="M158.1 2189.6L161.8 2152.7L168.1 2115.8L180.8 2078.8L179.9 2041.9L258.4 2005L278.9 1968.1L312.5 1949.6L326.1 1931.2L326.1 1912.7L338.8 1894.2L353.3 1875.8L354.3 1857.3L379.3 1838.9L447.9 1820.4L483.9 1801.9L502.5 1783.5L510 1765L695.6 1746.6L796.2 1728.1" stroke="#0bae98" stroke-width="2.9" fill="none" stroke-linejoin="round"/>
<circle cx="158.1" cy="2189.6" r="6.9" fill="#0bae98"/>
<circle cx="161.8" cy="2152.7" r="6.9" fill="#0bae98"/>
<circle cx="168.1" cy="2115.8" r="6.9" fill="#0bae98"/>
<circle cx="180.8" cy="2078.8" r="6.9" fill="#0bae98"/>
<circle cx="179.9" cy="2041.9" r="6.9" fill="#0bae98"/>
<circle cx="258.4" cy="2005" r="6.9" fill="#0bae98"/>
<circle cx="278.9" cy="1968.1" r="6.9" fill="#0bae98"/>
<circle cx="312.5" cy="1949.6" r="6.9" fill="#0bae98"/>
<circle cx="326.1" cy="1931.2" r="6.9" fill="#0bae98"/>
<circle cx="326.1" cy="1912.7" r="6.9" fill="#0bae98"/>
<circle cx="338.8" cy="1894.2" r="6.9" fill="#0bae98"/>
<circle cx="353.3" cy="1875.8" r="6.9" fill="#0bae98"/>
<circle cx="354.3" cy="1857.3" r="6.9" fill="#0bae98"/>
<circle cx="379.3" cy="1838.9" r="6.9" fill="#0bae98"/>
<circle cx="447.9" cy="1820.4" r="6.9" fill="#0bae98"/>
<circle cx="483.9" cy="1801.9" r="6.9" fill="#0bae98"/>
<circle cx="502.5" cy="1783.5" r="6.9" fill="#0bae98"/>
<circle cx="510" cy="1765" r="6.9" fill="#0bae98"/>
<circle cx="695.6" cy="1746.6" r="6.9" fill="#0bae98"/>
<circle cx="796.2" cy="1728.1" r="6.9" fill="#0bae98"/>
<path d="M158.1 2189.6L159.6 2152.7L164.5 2115.8L173.6 2078.8L172.7 2041.9L231.7 2005L246.2 1968.1L270.7 1949.6L280.7 1931.2L280.7 1912.7L290.3 1894.2L301.2 1875.8L301.6 1857.3L319.7 1838.9L368.8 1820.4L396 1801.9L410.4 1783.5L414.9 1765L550.4 1746.6L623.7 1728.1L650.3 1709.6L675.6 1687.5" stroke="#d8be8c" stroke-width="2.9" fill="none" stroke-linejoin="round"/>
<path d="M158.1 2180.6L165.6 2194.1L150.6 2194.1Z" fill="#d8be8c"/>
<path d="M159.6 2143.7L167.1 2157.2L152.1 2157.2Z" fill="#d8be8c"/>
<path d="M164.5 2106.8L172 2120.3L157 2120.3Z" fill="#d8be8c"/>
<path d="M173.6 2069.8L181.1 2083.3L166.1 2083.3Z" fill="#d8be8c"/>
<path d="M172.7 2032.9L180.2 2046.4L165.2 2046.4Z" fill="#d8be8c"/>
<path d="M231.7 1996L239.2 2009.5L224.2 2009.5Z" fill="#d8be8c"/>
<path d="M246.2 1959.1L253.7 1972.6L238.7 1972.6Z" fill="#d8be8c"/>
<path d="M270.7 1940.6L278.2 1954.1L263.2 1954.1Z" fill="#d8be8c"/>
<path d="M280.7 1922.2L288.2 1935.7L273.2 1935.7Z" fill="#d8be8c"/>
<path d="M280.7 1903.7L288.2 1917.2L273.2 1917.2Z" fill="#d8be8c"/>
<path d="M290.3 1885.2L297.8 1898.7L282.8 1898.7Z" fill="#d8be8c"/>
<path d="M301.2 1866.8L308.7 1880.3L293.7 1880.3Z" fill="#d8be8c"/>
<path d="M301.6 1848.3L309.1 1861.8L294.1 1861.8Z" fill="#d8be8c"/>
<path d="M319.7 1829.9L327.2 1843.4L312.2 1843.4Z" fill="#d8be8c"/>
<path d="M368.8 1811.4L376.3 1824.9L361.3 1824.9Z" fill="#d8be8c"/>
<path d="M396 1792.9L403.5 1806.4L388.5 1806.4Z" fill="#d8be8c"/>
<path d="M410.4 1774.5L417.9 1788L402.9 1788Z" fill="#d8be8c"/>
<path d="M414.9 1756L422.4 1769.5L407.4 1769.5Z" fill="#d8be8c"/>
<path d="M550.4 1737.6L557.9 1751.1L542.9 1751.1Z" fill="#d8be8c"/>
<path d="M623.7 1719.1L631.2 1732.6L616.2 1732.6Z" fill="#d8be8c"/>
<path d="M650.3 1700.6L657.8 1714.1L642.8 1714.1Z" fill="#d8be8c"/>
<path d="M675.6 1678.5L683.1 1692L668.1 1692Z" fill="#d8be8c"/>
</g>
<g><text class="t" x="94.2" y="2199.2" text-anchor="middle" font-size="25.5">0</text><text class="t" x="110.9" y="2125.5" text-anchor="end" font-size="23">100</text><text class="t" x="110.9" y="2051.6" text-anchor="end" font-size="23">200</text><text class="t" x="110.9" y="1977.8" text-anchor="end" font-size="23">300</text><text class="t" x="110.9" y="1903.9" text-anchor="end" font-size="23">400</text><text class="t" x="110.9" y="1830.1" text-anchor="end" font-size="23">500</text><text class="t" x="110.9" y="1756.3" text-anchor="end" font-size="23">600</text><text class="t" x="110.9" y="1682.4" text-anchor="end" font-size="23">700</text><text class="t" x="110.9" y="1605.4" text-anchor="end" font-size="23">800</text><text class="t" x="159" y="2223.6" text-anchor="middle" font-size="25">0</text><text class="t" x="250.5" y="2223.6" text-anchor="middle" font-size="25">1000</text><text class="t" x="342" y="2223.6" text-anchor="middle" font-size="25">2000</text><text class="t" x="433.5" y="2223.6" text-anchor="middle" font-size="25">3000</text><text class="t" x="525" y="2223.6" text-anchor="middle" font-size="25">4000</text><text class="t" x="616.5" y="2223.6" text-anchor="middle" font-size="25">5000</text><text class="t" x="708.1" y="2223.6" text-anchor="middle" font-size="25">6000</text><text class="t" x="799.6" y="2223.6" text-anchor="middle" font-size="25">7000</text></g>
<text transform="translate(37 1894.7) rotate(-90)" text-anchor="middle" font-size="30">Load/kN</text>
<text x="479.5" y="2265.6" text-anchor="middle" font-size="30.5">Strain/με</text>
<text x="462.8" y="2317.5" text-anchor="middle" font-size="48">(e)</text>
<rect x="606.7" y="2034.5" width="199.8" height="117.4" fill="#fff" stroke="#4a4a4a" stroke-width="1.4"/>
<path d="M613.2 2055.6H683.7" stroke="#064677" stroke-width="2.9"/>
<rect x="642.8" y="2049.6" width="12" height="12" fill="#064677"/>
<text x="689.6" y="2066" font-size="31" textLength="105.8" lengthAdjust="spacingAndGlyphs">Stirrup 1</text>
<path d="M613.2 2093.7H683.7" stroke="#0bae98" stroke-width="2.9"/>
<circle cx="648.8" cy="2093.7" r="6.9" fill="#0bae98"/>
<text x="689.6" y="2104.1" font-size="31" textLength="105.8" lengthAdjust="spacingAndGlyphs">Stirrup 2</text>
<path d="M613.2 2131.4H683.7" stroke="#d8be8c" stroke-width="2.9"/>
<path d="M648.8 2122.4L656.3 2135.9L641.3 2135.9Z" fill="#d8be8c"/>
<text x="689.6" y="2141.8" font-size="31" textLength="105.8" lengthAdjust="spacingAndGlyphs">Stirrup 3</text>
</g>
<g id="pf">
<clipPath id="cf"><rect x="996.3" y="1598.8" width="732.8" height="590.6"/></clipPath>
<path d="M1041.4 1598.8V2189.4M1133.1 1598.8V2189.4M1224.7 1598.8V2189.4M1316.4 1598.8V2189.4M1408.1 1598.8V2189.4M1499.8 1598.8V2189.4M1591.4 1598.8V2189.4M1683.1 1598.8V2189.4M996.3 2115.6H1729.1M996.3 2041.7H1729.1M996.3 1967.9H1729.1M996.3 1894.1H1729.1M996.3 1820.2H1729.1M996.3 1746.4H1729.1M996.3 1672.6H1729.1" stroke="#bdbdcf" stroke-width="1.7" fill="none"/>
<path d="M1041.4 1598.8v11M1041.4 2189.4v-11M1087.2 1598.8v5.6M1087.2 2189.4v-5.6M1133.1 1598.8v11M1133.1 2189.4v-11M1178.9 1598.8v5.6M1178.9 2189.4v-5.6M1224.7 1598.8v11M1224.7 2189.4v-11M1270.6 1598.8v5.6M1270.6 2189.4v-5.6M1316.4 1598.8v11M1316.4 2189.4v-11M1362.2 1598.8v5.6M1362.2 2189.4v-5.6M1408.1 1598.8v11M1408.1 2189.4v-11M1453.9 1598.8v5.6M1453.9 2189.4v-5.6M1499.8 1598.8v11M1499.8 2189.4v-11M1545.6 1598.8v5.6M1545.6 2189.4v-5.6M1591.4 1598.8v11M1591.4 2189.4v-11M1637.3 1598.8v5.6M1637.3 2189.4v-5.6M1683.1 1598.8v11M1683.1 2189.4v-11M996.3 2152.5h5.6M1729.1 2152.5h-5.6M996.3 2115.6h11M1729.1 2115.6h-11M996.3 2078.7h5.6M1729.1 2078.7h-5.6M996.3 2041.7h11M1729.1 2041.7h-11M996.3 2004.8h5.6M1729.1 2004.8h-5.6M996.3 1967.9h11M1729.1 1967.9h-11M996.3 1931h5.6M1729.1 1931h-5.6M996.3 1894.1h11M1729.1 1894.1h-11M996.3 1857.2h5.6M1729.1 1857.2h-5.6M996.3 1820.2h11M1729.1 1820.2h-11M996.3 1783.3h5.6M1729.1 1783.3h-5.6M996.3 1746.4h11M1729.1 1746.4h-11M996.3 1709.5h5.6M1729.1 1709.5h-5.6M996.3 1672.6h11M1729.1 1672.6h-11M996.3 1635.7h5.6M1729.1 1635.7h-5.6" stroke="#242424" stroke-width="2.4" fill="none"/>
<rect x="996.3" y="1598.8" width="732.8" height="590.6" fill="none" stroke="#242424" stroke-width="2.5"/>
<g clip-path="url(#cf)">
<path d="M1041.8 2189.4L1051.9 2152.5L1052.6 2115.6L1055 2078.7L1051.2 2041.7L1060.9 2004.8L1061.4 1967.9L1062.8 1938.4" stroke="#064677" stroke-width="2.9" fill="none" stroke-linejoin="round"/>
<rect x="1035.8" y="2183.4" width="12" height="12" fill="#064677"/>
<rect x="1045.9" y="2146.5" width="12" height="12" fill="#064677"/>
<rect x="1046.6" y="2109.6" width="12" height="12" fill="#064677"/>
<rect x="1049" y="2072.7" width="12" height="12" fill="#064677"/>
<rect x="1045.2" y="2035.7" width="12" height="12" fill="#064677"/>
<rect x="1054.9" y="1998.8" width="12" height="12" fill="#064677"/>
<rect x="1055.4" y="1961.9" width="12" height="12" fill="#064677"/>
<rect x="1056.8" y="1932.4" width="12" height="12" fill="#064677"/>
<path d="M1041.8 2189.4L1036.7 2152.5L1038 2115.6L1033.8 2078.7L1038.6 2041.7L1041.5 2004.8L1050.2 1967.9L1050.7 1938.4" stroke="#0bae98" stroke-width="2.9" fill="none" stroke-linejoin="round"/>
<circle cx="1041.8" cy="2189.4" r="6.9" fill="#0bae98"/>
<circle cx="1036.7" cy="2152.5" r="6.9" fill="#0bae98"/>
<circle cx="1038" cy="2115.6" r="6.9" fill="#0bae98"/>
<circle cx="1033.8" cy="2078.7" r="6.9" fill="#0bae98"/>
<circle cx="1038.6" cy="2041.7" r="6.9" fill="#0bae98"/>
<circle cx="1041.5" cy="2004.8" r="6.9" fill="#0bae98"/>
<circle cx="1050.2" cy="1967.9" r="6.9" fill="#0bae98"/>
<circle cx="1050.7" cy="1938.4" r="6.9" fill="#0bae98"/>
<path d="M1041.8 2189.4L1028.2 2152.5L1031.2 2115.6L1041.7 2078.7L1055.1 2041.7L1086.6 2004.8L1037.6 1967.9L1041 1938.4" stroke="#d8be8c" stroke-width="2.9" fill="none" stroke-linejoin="round"/>
<path d="M1041.8 2180.4L1049.3 2193.9L1034.3 2193.9Z" fill="#d8be8c"/>
<path d="M1028.2 2143.5L1035.7 2157L1020.7 2157Z" fill="#d8be8c"/>
<path d="M1031.2 2106.6L1038.7 2120.1L1023.7 2120.1Z" fill="#d8be8c"/>
<path d="M1041.7 2069.7L1049.2 2083.2L1034.2 2083.2Z" fill="#d8be8c"/>
<path d="M1055.1 2032.7L1062.6 2046.2L1047.6 2046.2Z" fill="#d8be8c"/>
<path d="M1086.6 1995.8L1094.1 2009.3L1079.1 2009.3Z" fill="#d8be8c"/>
<path d="M1037.6 1958.9L1045.1 1972.4L1030.1 1972.4Z" fill="#d8be8c"/>
<path d="M1041 1929.4L1048.5 1942.9L1033.5 1942.9Z" fill="#d8be8c"/>
</g>
<g><text class="t" x="977.4" y="2199.2" text-anchor="middle" font-size="25.5">0</text><text class="t" x="991.5" y="2125.3" text-anchor="end" font-size="23">100</text><text class="t" x="991.5" y="2051.4" text-anchor="end" font-size="23">200</text><text class="t" x="991.5" y="1977.6" text-anchor="end" font-size="23">300</text><text class="t" x="991.5" y="1903.8" text-anchor="end" font-size="23">400</text><text class="t" x="991.5" y="1830" text-anchor="end" font-size="23">500</text><text class="t" x="991.5" y="1756.1" text-anchor="end" font-size="23">600</text><text class="t" x="991.5" y="1682.3" text-anchor="end" font-size="23">700</text><text class="t" x="991.5" y="1608.9" text-anchor="end" font-size="23">800</text><text class="t" x="1041.4" y="2223.4" text-anchor="middle" font-size="25">0</text><text class="t" x="1133.1" y="2223.4" text-anchor="middle" font-size="25">1000</text><text class="t" x="1224.7" y="2223.4" text-anchor="middle" font-size="25">2000</text><text class="t" x="1316.4" y="2223.4" text-anchor="middle" font-size="25">3000</text><text class="t" x="1408.1" y="2223.4" text-anchor="middle" font-size="25">4000</text><text class="t" x="1499.8" y="2223.4" text-anchor="middle" font-size="25">5000</text><text class="t" x="1591.4" y="2223.4" text-anchor="middle" font-size="25">6000</text><text class="t" x="1683.1" y="2223.4" text-anchor="middle" font-size="25">7000</text></g>
<text transform="translate(920.2 1894.9) rotate(-90)" text-anchor="middle" font-size="30">Load/kN</text>
<text x="1363.2" y="2266" text-anchor="middle" font-size="30.5">Strain/με</text>
<text x="1346" y="2329.9" text-anchor="middle" font-size="48">(f)</text>
<rect x="1495.3" y="2032.8" width="193.6" height="116.9" fill="#fff" stroke="#4a4a4a" stroke-width="1.4"/>
<path d="M1496 2053.4H1566.4" stroke="#064677" stroke-width="2.9"/>
<rect x="1525.6" y="2047.4" width="12" height="12" fill="#064677"/>
<text x="1572.3" y="2063.8" font-size="31" textLength="105.8" lengthAdjust="spacingAndGlyphs">Stirrup 1</text>
<path d="M1496 2090.9H1566.4" stroke="#0bae98" stroke-width="2.9"/>
<circle cx="1531.6" cy="2090.9" r="6.9" fill="#0bae98"/>
<text x="1572.3" y="2101.3" font-size="31" textLength="105.8" lengthAdjust="spacingAndGlyphs">Stirrup 2</text>
<path d="M1496 2128.7H1566.4" stroke="#d8be8c" stroke-width="2.9"/>
<path d="M1531.6 2119.7L1539.1 2133.2L1524.1 2133.2Z" fill="#d8be8c"/>
<text x="1572.3" y="2139.1" font-size="31" textLength="105.8" lengthAdjust="spacingAndGlyphs">Stirrup 3</text>
</g>
</g></svg></body></html>
